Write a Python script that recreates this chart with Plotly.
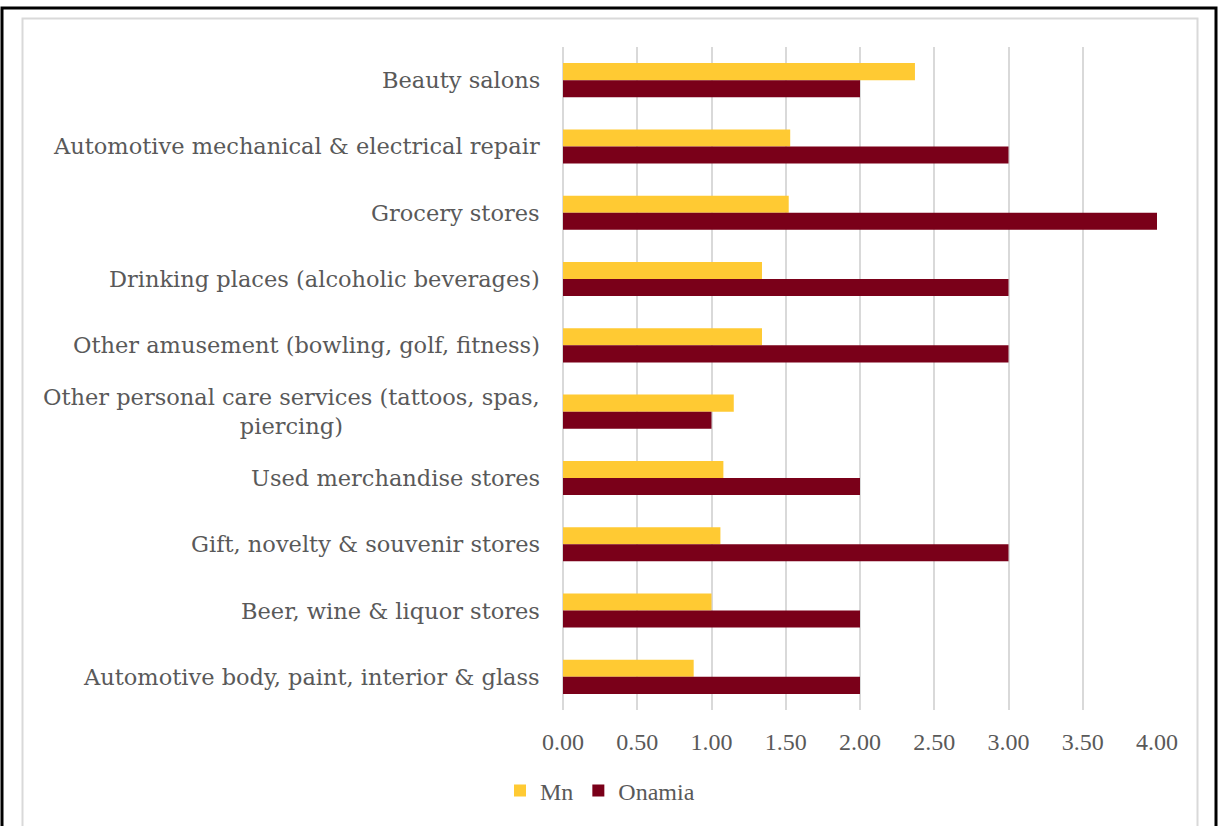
import plotly.graph_objects as go

# Business categories, top to bottom
categories = [
    "Beauty salons",
    "Automotive mechanical & electrical repair",
    "Grocery stores",
    "Drinking places (alcoholic beverages)",
    "Other amusement (bowling, golf, fitness)",
    "Other personal care services (tattoos, spas,<br>piercing)",
    "Used merchandise stores",
    "Gift, novelty & souvenir stores",
    "Beer, wine & liquor stores",
    "Automotive body, paint, interior & glass",
]
mn_values = [2.37, 1.53, 1.52, 1.34, 1.34, 1.15, 1.08, 1.06, 1.00, 0.88]
onamia_values = [2, 3, 4, 3, 3, 1, 2, 3, 2, 2]
tick_values = [0, 0.5, 1, 1.5, 2, 2.5, 3, 3.5, 4]
tick_labels = ["0.00", "0.50", "1.00", "1.50", "2.00", "2.50", "3.00", "3.50", "4.00"]

W, H = 1220, 826
L, R, T, B = 563, 1157, 47, 710  # plot area edges in pixels

def px_x(p):
    return (p - L) / (R - L)

def px_y(p):
    return 1 - (p - T) / (B - T)

text_color = "#595959"
grid_color = "#D9D9D9"

fig = go.Figure()
fig.add_trace(go.Bar(
    y=categories, x=mn_values, name="Mn", orientation="h",
    marker=dict(color="#FFCA33", line=dict(width=0)),
))
fig.add_trace(go.Bar(
    y=categories, x=onamia_values, name="Onamia", orientation="h",
    marker=dict(color="#7A0019", line=dict(width=0)),
))

# Category labels, centred line by line like a wrapped label
annotations = [
    dict(
        x=px_x(542), xref="paper", y=c, yref="y",
        text=c, showarrow=False, xanchor="right", yanchor="middle",
        align="center",
        font=dict(family="DejaVu Serif", size=22.5, color=text_color),
    )
    for c in categories
]

shapes = [
    # outer frame
    dict(type="rect", xref="paper", yref="paper",
         x0=px_x(2), x1=px_x(1216), y0=px_y(840), y1=px_y(8),
         line=dict(color="black", width=3), layer="above"),
    # chart area border
    dict(type="rect", xref="paper", yref="paper",
         x0=px_x(22.5), x1=px_x(1197.5), y0=px_y(840), y1=px_y(18.5),
         line=dict(color=grid_color, width=2), layer="below"),
]

fig.update_layout(
    width=W, height=H,
    margin=dict(l=L, r=W - R, t=T, b=H - B, pad=0),
    paper_bgcolor="white", plot_bgcolor="white",
    barmode="group", bargap=0.485, bargroupgap=0,
    font=dict(family="Liberation Serif", color=text_color),
    xaxis=dict(
        range=[0, 4], tickvals=tick_values, ticktext=tick_labels,
        showgrid=True, gridcolor=grid_color, gridwidth=2,
        zeroline=True, zerolinecolor=grid_color, zerolinewidth=2,
        showline=False, ticks="",
        tickfont=dict(family="Liberation Serif", size=24, color=text_color),
        ticklabelstandoff=15,
    ),
    yaxis=dict(
        autorange="reversed", showticklabels=False, showgrid=False,
        zeroline=False, showline=False, ticks="",
    ),
    legend=dict(
        orientation="h", xref="container", yref="container",
        x=500 / W, xanchor="left", y=1 - 791 / H, yanchor="middle",
        font=dict(family="Liberation Serif", size=24, color=text_color),
        itemwidth=30, traceorder="normal",
    ),
    annotations=annotations,
    shapes=shapes,
)

fig.write_html("out.html")
